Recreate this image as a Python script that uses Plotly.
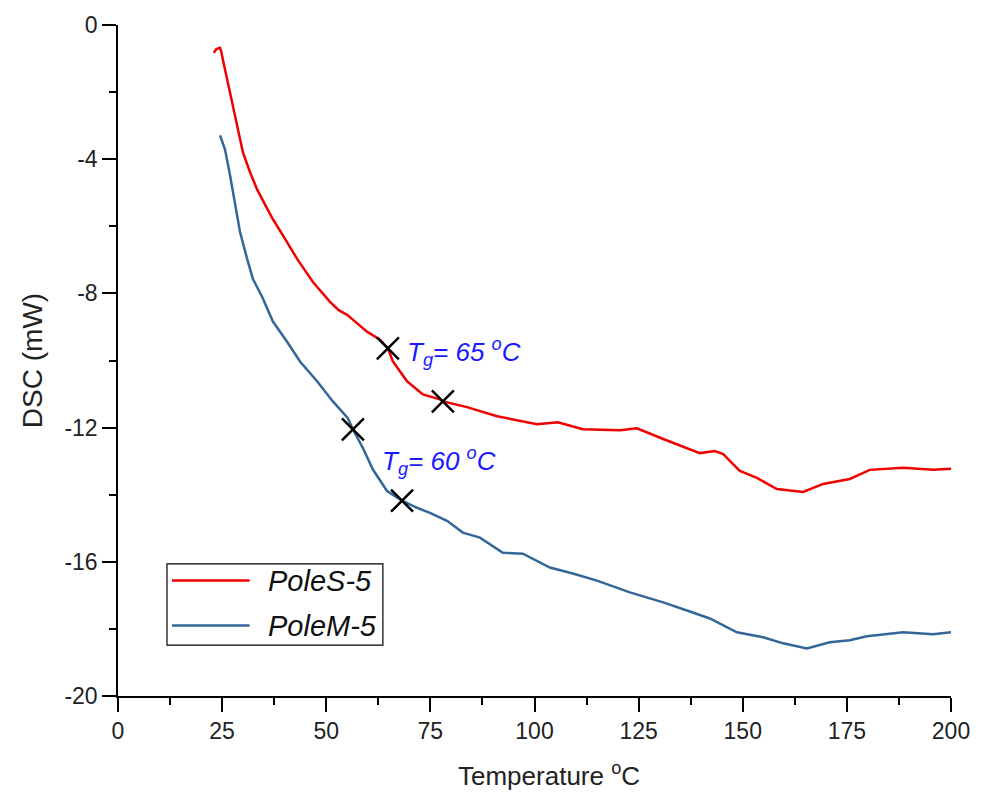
import plotly.graph_objects as go

# PoleS-5 (red) data
poles_T = [23.0, 23.6, 24.5, 24.8, 25.2, 26.9, 28.6, 30.0, 31.7, 33.4, 35.5, 37.2, 40.0, 43.0, 46.8, 50.9, 53.0,
           55.0, 57.5, 59.8, 62.9, 64.8, 66.0, 69.4, 73.2, 77.3, 78.0, 83.8, 91.0, 100.6, 105.6, 111.6, 120.5,
           124.6, 130.9, 137.3, 139.7, 143.3, 145.3, 149.3, 153.4, 158.2, 164.5, 169.3, 175.7, 180.5, 188.5,
           195.7, 200.0]
poles_v = [-0.83, -0.72, -0.68, -0.80, -1.04, -2.02, -3.00, -3.80, -4.39, -4.90, -5.40, -5.79, -6.35, -6.97,
           -7.66, -8.25, -8.50, -8.64, -8.90, -9.14, -9.38, -9.64, -10.03, -10.62, -11.01, -11.16, -11.22,
           -11.39, -11.66, -11.90, -11.84, -12.05, -12.08, -12.02, -12.34, -12.64, -12.76, -12.70, -12.79,
           -13.29, -13.50, -13.83, -13.92, -13.68, -13.53, -13.26, -13.20, -13.26, -13.23]

# PoleM-5 (blue) data
polem_T = [24.5, 25.7, 26.9, 28.1, 29.3, 31.0, 32.4, 34.6, 37.2, 40.6, 43.7, 47.8, 51.6, 55.2, 56.4, 58.8, 61.2,
           64.6, 68.2, 71.8, 74.9, 79.0, 82.8, 86.9, 92.4, 97.2, 103.7, 109.2, 115.0, 122.9, 130.9, 137.3,
           142.1, 148.6, 154.9, 159.7, 165.4, 170.9, 175.7, 179.8, 188.5, 195.7, 200.0]
polem_v = [-3.29, -3.71, -4.48, -5.37, -6.17, -6.97, -7.57, -8.10, -8.84, -9.44, -10.03, -10.62, -11.22,
           -11.72, -12.05, -12.61, -13.25, -13.89, -14.18, -14.39, -14.54, -14.78, -15.13, -15.28, -15.73,
           -15.76, -16.17, -16.35, -16.56, -16.91, -17.21, -17.48, -17.69, -18.10, -18.25, -18.43, -18.58,
           -18.40, -18.34, -18.22, -18.10, -18.16, -18.10]

series_names = ["PoleS-5", "PoleM-5"]
series_colors = ["#f00000", "#33679a"]

# Tg markers
tg_T = [64.8, 78.0, 56.4, 68.2]
tg_v = [-9.64, -11.22, -12.05, -14.18]

# Annotation labels
ann_text = ["<i>T<sub>g</sub>= 65 <sup>o</sup>C</i>", "<i>T<sub>g</sub>= 60 <sup>o</sup>C</i>"]
ann_T = [68.8, 62.8]
ann_v = [-9.75, -13.0]

x_ticks = [0, 25, 50, 75, 100, 125, 150, 175, 200]
y_ticks = [0, -4, -8, -12, -16, -20]

FONT = "Arial, Liberation Sans, sans-serif"

fig = go.Figure()
for T, v, name, col in zip([poles_T, polem_T], [poles_v, polem_v], series_names, series_colors):
    fig.add_trace(go.Scatter(x=T, y=v, mode="lines", name=name, showlegend=False,
                             line=dict(color=col, width=2.5)))
fig.add_trace(go.Scatter(x=tg_T, y=tg_v, mode="markers", showlegend=False,
                         marker=dict(symbol="x-thin", size=22, line=dict(color="black", width=2.5))))

for t, x, y in zip(ann_text, ann_T, ann_v):
    fig.add_annotation(x=x, y=y, text=t, showarrow=False, xanchor="left", yanchor="middle",
                       font=dict(family=FONT, size=26, color="#1a1aff"))

# Custom legend (paper coordinates)
fig.add_shape(type="rect", xref="paper", yref="paper", x0=0.0588, x1=0.318, y0=0.0757, y1=0.197,
              line=dict(color="black", width=1.2), fillcolor="white", layer="above")
leg_y = [0.172, 0.105]
for name, col, ly in zip(series_names, series_colors, leg_y):
    fig.add_shape(type="line", xref="paper", yref="paper", x0=0.0648, x1=0.158, y0=ly, y1=ly,
                  line=dict(color=col, width=2.5), layer="above")
    fig.add_annotation(xref="paper", yref="paper", x=0.178, y=ly, text="<i>" + name + "</i>",
                       showarrow=False, xanchor="left", yanchor="middle",
                       font=dict(family=FONT, size=29, color="#111"))

# X-axis title (placed as annotation to match reference offset)
fig.add_annotation(xref="paper", yref="paper", x=0.517, y=-0.117, text="Temperature <sup>o</sup>C",
                   showarrow=False, xanchor="center", yanchor="middle",
                   font=dict(family=FONT, size=26, color="#222"))

axis_common = dict(showline=True, linecolor="black", linewidth=1.5, ticks="outside", ticklen=14,
                   tickwidth=1.5, tickcolor="black", showgrid=False, zeroline=False, mirror=False)

fig.update_xaxes(range=[0, 200], tickvals=x_ticks, ticktext=[str(v) for v in x_ticks],
                 tickfont=dict(family=FONT, size=23, color="#222"),
                 minor=dict(ticks="outside", ticklen=7, tickwidth=1.5, tickcolor="black", dtick=12.5, tick0=0),
                 **axis_common)
fig.update_yaxes(range=[-20, 0], tickvals=y_ticks, ticktext=[str(v) for v in y_ticks],
                 tickfont=dict(family=FONT, size=23, color="#222"),
                 minor=dict(ticks="outside", ticklen=7, tickwidth=1.5, tickcolor="black", dtick=2, tick0=0),
                 title=dict(text="DSC (mW)", font=dict(family=FONT, size=28, color="#222"), standoff=14),
                 **axis_common)

fig.update_layout(
    width=991, height=802,
    margin=dict(l=118, r=40, t=22, b=106),
    plot_bgcolor="white", paper_bgcolor="white",
    showlegend=False,
)

fig.write_html("out.html")
